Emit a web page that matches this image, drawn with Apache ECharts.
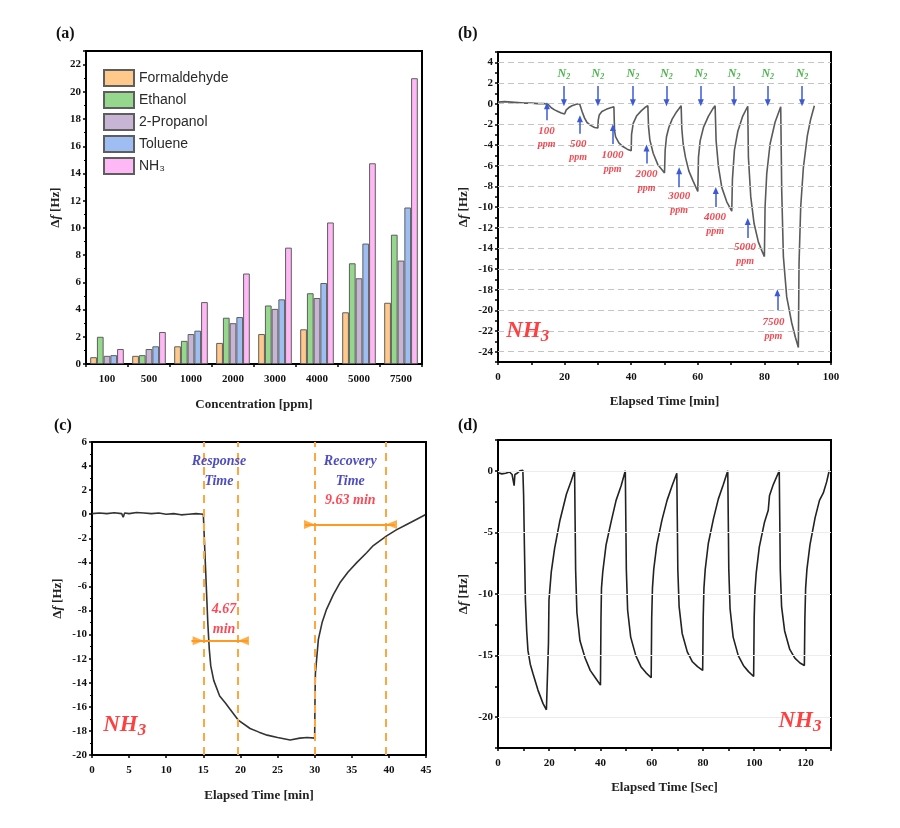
<!DOCTYPE html>
<html><head><meta charset="utf-8">
<script src="https://cdn.jsdelivr.net/npm/echarts@6/dist/echarts.min.js"></script>
<style>html,body{margin:0;padding:0;background:#fff}#c{width:900px;height:828px}</style>
</head><body><div id="c"></div>
<script>
// ---------- Panel (a) data ----------
const catA = ['100','500','1000','2000','3000','4000','5000','7500'];
const formaldehyde = [0.5,0.6,1.3,1.55,2.2,2.55,3.8,4.5];
const ethanol = [2.0,0.65,1.7,3.4,4.3,5.2,7.4,9.5];
const propanol = [0.6,1.1,2.2,3.0,4.05,4.85,6.3,7.6];
const toluene = [0.65,1.3,2.45,3.45,4.75,5.95,8.85,11.5];
const nh3Bars = [1.1,2.35,4.55,6.65,8.55,10.4,14.75,21.0];
const gasNames = ['Formaldehyde','Ethanol','2-Propanol','Toluene','NH\u2083'];
const gasColors = ['#FFC98C','#96D78E','#C8B5D6','#9DBDF3','#FFB8F6'];

// ---------- Panel (b) data ----------
const bTime = [0,2,4,6,8,10,12,14,15,
 16,17,18,19,20, 20.5,21.2,22.2,23.5,24.5,25,
 25.3,26,26.7,27.8,29,30, 30.1,30.4,31.2,32.5,33.8,34.8,
 35.0,35.3,36.3,37.5,38.8,40, 40.1,40.6,41.6,43,44.2,45,
 45.2,45.6,46.6,48,49,50, 50.2,50.6,51.3,52.3,53.6,55,
 55.2,55.6,56.3,57.3,58.6,60, 60.2,60.7,61.7,63.2,64.5,65.2,
 65.5,66.2,67.2,68.7,70.2, 70.4,71.0,72.0,73.5,75.0,
 75.2,75.9,76.9,78.2,79.2,80.0, 80.2,80.7,81.7,83.2,84.9,
 85.2,85.7,86.7,88.2,89.3,90.2, 90.4,90.9,91.7,92.9,93.9,95];
const bDelta = [0.15,0.2,0.15,0.1,0.05,0.05,0.0,0.0,-0.05,
 -0.4,-0.6,-0.75,-0.9,-1.0, -0.6,-0.4,-0.2,-0.05,0.0,-0.05,
 -0.8,-1.4,-1.8,-2.1,-2.3,-2.35, -1.6,-1.1,-0.75,-0.55,-0.4,-0.3,
 -2.6,-3.2,-3.8,-4.15,-4.4,-4.55, -3.0,-1.9,-1.2,-0.7,-0.35,-0.2,
 -2.2,-3.5,-4.8,-5.9,-6.3,-6.7, -4.5,-3.2,-2.3,-1.5,-0.8,-0.2,
 -2.4,-3.9,-5.2,-6.5,-7.5,-8.5, -5.2,-3.6,-2.3,-1.2,-0.5,-0.2,
 -3.6,-6.1,-8.1,-9.5,-10.4, -7.3,-4.5,-2.7,-1.2,-0.25,
 -5.2,-9.0,-11.6,-13.4,-14.2,-14.8, -10.0,-6.8,-3.9,-1.8,-0.3,
 -8.4,-14.8,-18.7,-21.2,-22.6,-23.6, -15.5,-10.0,-6.2,-3.1,-1.5,-0.2];
const bGridTicks = [4,2,0,-2,-4,-6,-8,-10,-12,-14,-16,-18,-20,-22,-24];
const n2Times = [19.8,30.0,40.5,50.6,60.9,70.9,81.0,91.3];
const n2ArrowFrom = 1.7, n2ArrowTo = 0.1, n2LabelY = 2.9;
const ppmLabels = ['100','500','1000','2000','3000','4000','5000','7500'];
const ppmLabelT = [14.6,24.1,34.4,44.6,54.4,65.2,74.2,82.7];
const ppmLabelY = [-3.3,-4.55,-5.65,-7.5,-9.65,-11.7,-14.6,-21.8];
const ppmArrowT = [14.7,24.6,34.5,44.6,54.4,65.4,75.0,83.9];
const ppmArrowFrom = [-1.6,-2.9,-3.9,-5.8,-8.1,-10.0,-13.0,-20.0];
const ppmArrowTo = [-0.2,-1.45,-2.3,-4.3,-6.5,-8.4,-11.4,-18.3];

// ---------- Panel (c) data ----------
const cTime = [0,1,2,3,4,4.2,4.4,5,6,7,8,9,10,11,12,13,14,15,
 15.2,15.4,15.6,15.8,16.0,16.4,17.2,18,18.6,19.7,21.3,22.5,23.6,25,26.7,28,29,30,
 30.05,30.1,30.5,31,31.6,32.5,33.4,34.5,35.7,37,37.9,39.7,41,42.4,43.5,44.9];
const cDelta = [0.05,0.1,0.05,0.12,0.05,-0.25,0.1,0.05,0.15,0.1,0.05,0.1,0.0,0.05,-0.05,0.0,0.05,0.0,
 -3,-6,-9,-11.2,-12.6,-13.8,-15.1,-15.7,-16.2,-17.1,-17.8,-18.1,-18.35,-18.55,-18.75,-18.6,-18.55,-18.6,
 -15,-13.2,-10.4,-9,-7.9,-6.7,-5.7,-4.8,-4.0,-3.2,-2.6,-1.8,-1.3,-0.85,-0.5,-0.05];
const markerTimes = [15, 19.67, 30, 39.63];
const responseSpan = [13.4, 21.0], responseY = -10.5;
const recoverySpan = [28.7, 40.8], recoveryY = -0.85;
const arrowHeadT = [14.3, 20.4, 29.3, 40.35];
const arrowHeadY = [-10.5, -10.5, -0.85, -0.85];
const arrowHeadRot = [-90, 90, -90, 90];

// ---------- Panel (d) data ----------
const dTime = [0,1.5,3,4.5,5.5,6,6.3,6.6,7.5,8.5,9,9.7,
 10.0,10.3,10.7,11.2,11.7,12.6,13.7,15.6,17.6,18.9,19.5,
 19.7,19.9,20.8,22.1,24.1,25.4,26.7,28.6,29.9,
 30.1,30.3,30.8,32,34,36,38,40,
 40.2,40.4,40.9,42.2,44.2,46.1,48.1,49.7,
 49.9,50.1,50.6,51.8,53.8,55.8,57.8,59.8,
 60.0,60.3,60.8,62,64,66,68,69.8,
 70,70.2,70.7,71.9,73.9,75.9,77.9,79.9,
 80.1,80.4,80.9,82.1,84.1,86,88,89.7,
 89.9,90.1,90.6,91.8,93.8,95.8,97.8,99.8,
 100,100.3,100.8,102,104,105.5,106,107.5,109.8,
 110,110.2,110.7,111.9,113.9,115.9,117.9,119.6,
 119.8,120.1,120.6,121.8,123.8,125.5,127,128.3,129.3];
const dDelta = [-0.15,-0.25,-0.2,-0.1,-0.3,-0.4,-1.2,-0.3,-0.2,0.0,-0.1,0.05,
 -2,-6,-10.5,-13,-14.6,-15.7,-16.5,-17.8,-18.9,-19.4,-19.5,
 -14,-10.5,-8.2,-6.3,-4.1,-3.0,-1.9,-0.8,0,
 -4,-8,-11.5,-13.8,-15.2,-16.2,-16.8,-17.4,
 -12,-9.5,-8.2,-6.0,-4.1,-2.4,-1.2,0,
 -4,-8,-11.3,-13.5,-15.0,-15.9,-16.4,-16.8,
 -12,-9.5,-8.0,-6.0,-4.0,-2.4,-1.2,-0.2,
 -4,-8,-11,-13.2,-14.7,-15.5,-15.9,-16.2,
 -12,-9.5,-8.0,-5.9,-3.9,-2.3,-1.1,0,
 -4,-8,-11.2,-13.5,-15.0,-15.8,-16.3,-16.7,
 -12,-9.8,-8.3,-6.2,-4.2,-3.2,-2.0,-1.1,0,
 -4,-8,-11,-13,-14.5,-15.2,-15.6,-15.8,
 -12,-9.5,-8,-6,-3.8,-2.4,-1.8,-0.9,0];
const dGridTicks = [0,-5,-10,-15,-20];

// ---------- label positions ----------
const nh3LabelB = [8.9, -22.0];
const nh3LabelC = [4.4, -17.5];
const nh3LabelD = [117.9, -20.3];

// ---------- helpers ----------
const SERIF = "'Liberation Serif','Times New Roman',serif";
const SANS = "'Liberation Sans',Arial,sans-serif";
const zip = (a,b) => a.map((v,i)=>[v,b[i]]);
const gridBase = {show:true, borderColor:'#000', borderWidth:2, containLabel:false, outerBoundsMode:'none'};
const nameRich = {
  d:{fontFamily:SERIF, fontWeight:'bold', fontSize:13, color:'#222'},
  f:{fontFamily:SERIF, fontWeight:'bold', fontStyle:'italic', fontSize:13, color:'#222'}
};
const yName = '{d|\u0394}{f|f}{d| [Hz]}';
function axis(o){
  return Object.assign({
    type:'value',
    axisLine:{show:true, onZero:false, lineStyle:{color:'#000', width:2}},
    axisTick:{show:true, length:3, lineStyle:{color:'#000', width:1.5}},
    axisLabel:{color:'#111', fontFamily:SERIF, fontWeight:'bold', fontSize:11, margin:5},
    splitLine:{show:false},
    nameLocation:'middle',
    nameTextStyle:{fontFamily:SERIF, fontWeight:'bold', fontSize:13, color:'#222', rich:nameRich}
  }, o);
}
const nh3Rich = {
  a:{fontFamily:SERIF, fontStyle:'italic', fontWeight:'bold', fontSize:23, color:'#FF1010'},
  b:{fontFamily:SERIF, fontStyle:'italic', fontWeight:'bold', fontSize:17, color:'#FF1010', padding:[12,0,0,0]}
};
function textSeries(idx, data, label){
  return {type:'scatter', xAxisIndex:idx, yAxisIndex:idx, data:data, symbolSize:0, silent:true, z:10,
    label:Object.assign({show:true, position:'inside'}, label)};
}
function emptyLine(idx, markLine){
  return {type:'line', xAxisIndex:idx, yAxisIndex:idx, data:[], silent:true, markLine:markLine};
}

const barData = [formaldehyde, ethanol, propanol, toluene, nh3Bars];

const series = [];
barData.forEach((d,i)=>{
  series.push({name:gasNames[i], type:'bar', xAxisIndex:0, yAxisIndex:0, data:d,
    barGap:'0%', barCategoryGap:'20%',
    itemStyle:{color:gasColors[i], borderColor:'#5e5e5e', borderWidth:1}});
});

// (b) gridlines
series.push(emptyLine(1, {silent:true, symbol:'none', label:{show:false},
  lineStyle:{color:'#c4c4c4', type:[6,4], width:1},
  data: bGridTicks.map(v=>({yAxis:v}))}));
// (b) curve
series.push({name:'curveB', type:'line', xAxisIndex:1, yAxisIndex:1, data:zip(bTime,bDelta),
  showSymbol:false, smooth:false, lineStyle:{color:'#5a5a5a', width:1.6}, z:3});
// (b) arrows
series.push(emptyLine(1, {silent:true, symbol:['none','triangle'], symbolSize:[6,7], label:{show:false},
  lineStyle:{color:'#3d5ad6', type:'solid', width:1.5},
  data: n2Times.map(t=>[{coord:[t,n2ArrowFrom]},{coord:[t,n2ArrowTo]}])
    .concat(ppmArrowT.map((t,i)=>[{coord:[t,ppmArrowFrom[i]]},{coord:[t,ppmArrowTo[i]]}]))}));
// (b) labels
series.push(textSeries(1, n2Times.map(t=>[t,n2LabelY]), {
  formatter:'{n|N}{s|2}',
  rich:{n:{fontFamily:SERIF, fontStyle:'italic', fontWeight:'bold', fontSize:12, color:'#22a322'},
        s:{fontFamily:SERIF, fontStyle:'italic', fontWeight:'bold', fontSize:8, color:'#22a322', padding:[6,0,0,0]}}}));
series.push(textSeries(1, ppmLabels.map((s,i)=>[ppmLabelT[i], ppmLabelY[i], s]), {
  formatter:p=>'{a|'+p.value[2]+'}\n{b|ppm}',
  rich:{a:{fontFamily:SERIF, fontStyle:'italic', fontWeight:'bold', fontSize:11, color:'#ee1c25', lineHeight:14},
        b:{fontFamily:SERIF, fontStyle:'italic', fontWeight:'bold', fontSize:10, color:'#ee1c25', lineHeight:14}}}));
series.push(textSeries(1, [nh3LabelB], {formatter:'{a|NH}{b|3}', rich:nh3Rich}));

// (c) curve with dashed markers
series.push({name:'curveC', type:'line', xAxisIndex:2, yAxisIndex:2, data:zip(cTime,cDelta),
  showSymbol:false, lineStyle:{color:'#333', width:1.6}, z:3,
  markLine:{silent:true, symbol:'none', label:{show:false},
    lineStyle:{color:'#FFA640', type:[8,6], width:2},
    data: markerTimes.map(t=>({xAxis:t}))}});
series.push(emptyLine(2, {silent:true, symbol:'none', label:{show:false},
  lineStyle:{color:'#FF9A1F', type:'solid', width:2},
  data:[[{coord:[responseSpan[0],responseY]},{coord:[responseSpan[1],responseY]}],
        [{coord:[recoverySpan[0],recoveryY]},{coord:[recoverySpan[1],recoveryY]}]]}));
series.push({type:'scatter', xAxisIndex:2, yAxisIndex:2, silent:true, z:6,
  data: arrowHeadT.map((t,i)=>({value:[t,arrowHeadY[i]], symbolRotate:arrowHeadRot[i]})),
  symbol:'triangle', symbolSize:[9,11], itemStyle:{color:'#FF9A1F'}});
series.push(textSeries(2, [[17.1,3.6,'Response'],[34.8,3.6,'Recovery']], {
  formatter:p=>'{a|'+p.value[2]+'}\n{a|Time}',
  rich:{a:{fontFamily:SERIF, fontStyle:'italic', fontWeight:'bold', fontSize:14, color:'#2020b0', lineHeight:20}}}));
series.push(textSeries(2, [[34.8,1.15,'9.63 min']], {
  formatter:p=>p.value[2], fontFamily:SERIF, fontStyle:'italic', fontWeight:'bold', fontSize:14, color:'#ff1a2a'}));
series.push(textSeries(2, [[17.8,-8.7,'4.67']], {
  formatter:p=>p.value[2]+'\nmin', fontFamily:SERIF, fontStyle:'italic', fontWeight:'bold', fontSize:14, color:'#ff1a2a', lineHeight:20}));
series.push(textSeries(2, [nh3LabelC], {formatter:'{a|NH}{b|3}', rich:nh3Rich}));

// (d)
series.push(emptyLine(3, {silent:true, symbol:'none', label:{show:false},
  lineStyle:{color:'#ececec', type:'solid', width:1},
  data: dGridTicks.map(v=>({yAxis:v}))}));
series.push({name:'curveD', type:'line', xAxisIndex:3, yAxisIndex:3, data:zip(dTime,dDelta),
  showSymbol:false, lineStyle:{color:'#222', width:1.6}, z:3});
series.push(textSeries(3, [nh3LabelD], {formatter:'{a|NH}{b|3}', rich:nh3Rich}));

const panelLabel = (txt,x,y)=>({type:'text', left:x, top:y,
  style:{text:txt, font:"bold 16px 'Liberation Serif','Times New Roman',serif", fill:'#111'}});

const option = {
  animation:false,
  backgroundColor:'#fff',
  grid:[
    Object.assign({left:86, top:51, width:336, height:313}, gridBase),
    Object.assign({left:498, top:52, width:333, height:310}, gridBase),
    Object.assign({left:92, top:442, width:334, height:313}, gridBase),
    Object.assign({left:498, top:440, width:333, height:308}, gridBase)
  ],
  legend:{data:gasNames, orient:'vertical', left:98, top:64, itemWidth:30, itemHeight:16, itemGap:4,
    icon:'rect', selectedMode:false,
    textStyle:{fontFamily:SANS, fontSize:14, color:'#2a2a2a'}},
  xAxis:[
    axis({type:'category', gridIndex:0, data:catA, name:'Concentration [ppm]', nameGap:34,
      axisTick:{show:true, length:3, lineStyle:{color:'#000', width:1.5}},
      axisLabel:{color:'#111', fontFamily:SERIF, fontWeight:'bold', fontSize:11, margin:10}}),
    axis({gridIndex:1, min:0, max:100, interval:10, name:'Elapsed Time [min]', nameGap:33,
      axisLabel:{color:'#111', fontFamily:SERIF, fontWeight:'bold', fontSize:11, margin:10,
        formatter:v=> (v%20===0 ? String(v) : '')}}),
    axis({gridIndex:2, min:0, max:45, interval:5, name:'Elapsed Time [min]', nameGap:34,
      axisLabel:{color:'#111', fontFamily:SERIF, fontWeight:'bold', fontSize:11, margin:10}}),
    axis({gridIndex:3, min:0, max:130, interval:10, name:'Elapsed Time [Sec]', nameGap:33,
      axisLabel:{color:'#111', fontFamily:SERIF, fontWeight:'bold', fontSize:11, margin:10,
        formatter:v=> (v%20===0 ? String(v) : '')}})
  ],
  yAxis:[
    axis({gridIndex:0, min:0, max:23, interval:2, name:yName, nameGap:24,
      minorTick:{show:true, splitNumber:2, length:2, lineStyle:{color:'#000', width:1}},
      axisLabel:{color:'#111', fontFamily:SERIF, fontWeight:'bold', fontSize:11, margin:5, showMaxLabel:false,
        formatter:v=> (v%2===0 ? String(v) : '')}}),
    axis({gridIndex:1, min:-25, max:5, interval:1, name:yName, nameGap:28,
      axisLabel:{color:'#111', fontFamily:SERIF, fontWeight:'bold', fontSize:11, margin:5,
        formatter:v=> (v%2===0 ? String(v) : '')}}),
    axis({gridIndex:2, min:-20, max:6, interval:2, name:yName, nameGap:28,
      minorTick:{show:true, splitNumber:2, length:2, lineStyle:{color:'#000', width:1}}}),
    axis({gridIndex:3, min:-22.5, max:2.5, interval:2.5, name:yName, nameGap:28,
      axisLabel:{color:'#111', fontFamily:SERIF, fontWeight:'bold', fontSize:11, margin:5,
        formatter:v=> (v%5===0 ? String(v) : '')}})
  ],
  graphic:[
    panelLabel('(a)',56,26), panelLabel('(b)',458,26),
    panelLabel('(c)',54,418), panelLabel('(d)',458,418)
  ],
  series:series
};
const chart = echarts.init(document.getElementById('c'), null, {renderer:'canvas', width:900, height:828});
chart.setOption(option);
</script>
</body></html>
